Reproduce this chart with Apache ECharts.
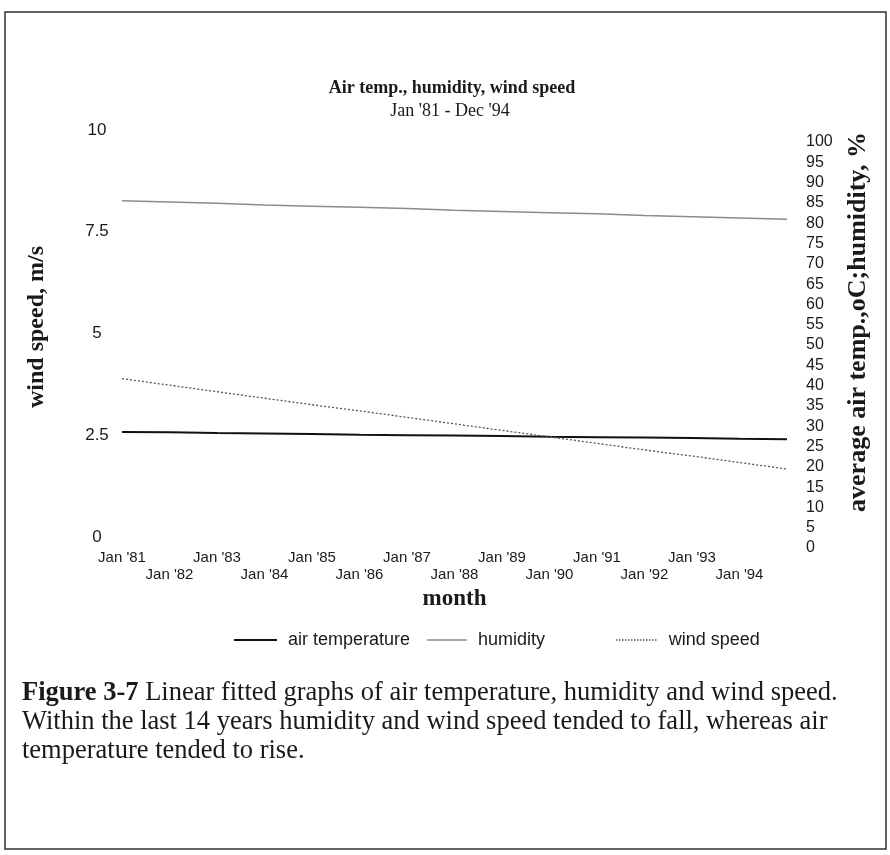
<!DOCTYPE html>
<html>
<head>
<meta charset="utf-8">
<script src="https://cdn.jsdelivr.net/npm/echarts@6/dist/echarts.min.js"></script>
<style>
html,body{margin:0;padding:0;background:#fff;}
#chart{width:890px;height:855px;}
</style>
</head>
<body>
<div id="chart"></div>
<script>
// ---- data ----
const categories = ["Jan '81","Jan '82","Jan '83","Jan '84","Jan '85","Jan '86","Jan '87","Jan '88","Jan '89","Jan '90","Jan '91","Jan '92","Jan '93","Jan '94","Dec '94"];
const airTemperature = [28.6,28.5,28.3,28.2,28.1,27.9,27.8,27.7,27.6,27.4,27.3,27.2,27.1,26.9,26.8];
const humidity = [85.5,85.2,84.9,84.5,84.2,83.9,83.6,83.2,82.9,82.6,82.3,81.9,81.6,81.3,81.0];
const windSpeed = [3.89,3.73,3.57,3.41,3.25,3.10,2.94,2.78,2.62,2.46,2.30,2.14,1.99,1.83,1.67];
const leftTicks = {min:0, max:10, interval:2.5};
const rightTicks = {min:0, max:100, interval:5};

const chart = echarts.init(document.getElementById('chart'), null, {renderer:'canvas'});
const sans = "'Liberation Sans', Arial, sans-serif";
const serifStack = "'Liberation Serif', 'Times New Roman', serif";
const ink = '#1a1a1a';

let dots = '';
for (let k = 0; k < 14; k++) { dots += 'M' + (k*2) + ',0h1v1h-1z '; }
const dottedIcon = 'path://' + dots.trim();

const option = {
  backgroundColor:'#ffffff',
  animation:false,
  grid:[
    {left:122, right:103, top:130, height:407},
    {left:122, right:103, top:142, height:406}
  ],
  xAxis:[
    {type:'category', gridIndex:0, data:categories, boundaryGap:false, show:false},
    {type:'category', gridIndex:1, data:categories, boundaryGap:false,
     axisLine:{show:false}, axisTick:{show:false}, splitLine:{show:false},
     name:'month', nameLocation:'middle', nameGap:40,
     nameTextStyle:{fontFamily:serifStack, fontWeight:'bold', fontSize:23, color:ink},
     axisLabel:{interval:0, margin:1, fontFamily:sans, fontSize:15, lineHeight:17, color:ink,
       formatter:function(v, i){ if(i===categories.length-1) return ''; return (i%2===1)?('\n'+v):v; }}}
  ],
  yAxis:[
    {type:'value', gridIndex:0, position:'left', min:leftTicks.min, max:leftTicks.max, interval:leftTicks.interval,
     axisLine:{show:false}, axisTick:{show:false}, splitLine:{show:false},
     axisLabel:{align:'center', margin:25, fontFamily:sans, fontSize:17, color:ink}},
    {type:'value', gridIndex:1, position:'right', min:rightTicks.min, max:rightTicks.max, interval:rightTicks.interval,
     axisLine:{show:false}, axisTick:{show:false}, splitLine:{show:false},
     axisLabel:{align:'left', margin:19, fontFamily:sans, fontSize:16, color:ink}}
  ],
  legend:[
    {data:[{name:'air temperature', icon:'rect'}], left:234, top:631, padding:0, itemWidth:43, itemHeight:2,
     textStyle:{fontFamily:sans, fontSize:18, color:ink, padding:[0,0,0,6]}},
    {data:[{name:'humidity', icon:'rect'}], left:427, top:631, padding:0, itemWidth:40, itemHeight:1.5,
     textStyle:{fontFamily:sans, fontSize:18, color:ink, padding:[0,0,0,6]}},
    {data:[{name:'wind speed', icon:dottedIcon}], left:616, top:631, padding:0, itemWidth:41, itemHeight:1.5,
     textStyle:{fontFamily:sans, fontSize:18, color:ink, padding:[0,0,0,7]}}
  ],
  series:[
    {name:'air temperature', type:'line', xAxisIndex:1, yAxisIndex:1, data:airTemperature,
     symbol:'none', lineStyle:{color:'#111111', width:2, type:'solid'}, itemStyle:{color:'#111111'}},
    {name:'humidity', type:'line', xAxisIndex:1, yAxisIndex:1, data:humidity,
     symbol:'none', lineStyle:{color:'#8c8c8c', width:1.5, type:'solid'}, itemStyle:{color:'#8c8c8c'}},
    {name:'wind speed', type:'line', xAxisIndex:0, yAxisIndex:0, data:windSpeed,
     symbol:'none', lineStyle:{color:'#555555', width:1.3, type:[2,2]}, itemStyle:{color:'#555555'}}
  ],
  graphic:[
    {type:'rect', shape:{x:5, y:12, width:881, height:837}, style:{fill:'none', stroke:'#333', lineWidth:1.5}, silent:true},
    {type:'text', x:452, y:88, style:{text:'Air temp., humidity, wind speed', align:'center', verticalAlign:'middle',
      font:"bold 18px 'Liberation Serif', 'Times New Roman', serif", fill:ink}},
    {type:'text', x:450, y:111, style:{text:"Jan '81 - Dec '94", align:'center', verticalAlign:'middle',
      font:"18px 'Liberation Serif', 'Times New Roman', serif", fill:ink}},
    {type:'text', x:37, y:327, rotation:Math.PI/2, style:{text:'wind speed, m/s', align:'center', verticalAlign:'middle',
      font:"bold 24px 'Liberation Serif', 'Times New Roman', serif", fill:ink}},
    {type:'text', x:858, y:322, rotation:Math.PI/2, style:{text:'average air temp.,oC;humidity, %', align:'center', verticalAlign:'middle',
      font:"bold 26px 'Liberation Serif', 'Times New Roman', serif", fill:ink}},
    {type:'text', x:22, y:693, style:{text:'{b|Figure 3-7} Linear fitted graphs of air temperature, humidity and wind speed.',
      verticalAlign:'middle', font:"26.5px 'Liberation Serif', 'Times New Roman', serif", fill:ink,
      rich:{b:{font:"bold 26.5px 'Liberation Serif', 'Times New Roman', serif", fill:ink}}}},
    {type:'text', x:22, y:722, style:{text:'Within the last 14 years humidity and wind speed tended to fall, whereas air',
      verticalAlign:'middle', font:"26.5px 'Liberation Serif', 'Times New Roman', serif", fill:ink}},
    {type:'text', x:22, y:751, style:{text:'temperature tended to rise.',
      verticalAlign:'middle', font:"26.5px 'Liberation Serif', 'Times New Roman', serif", fill:ink}}
  ]
};
chart.setOption(option);
</script>
</body>
</html>
